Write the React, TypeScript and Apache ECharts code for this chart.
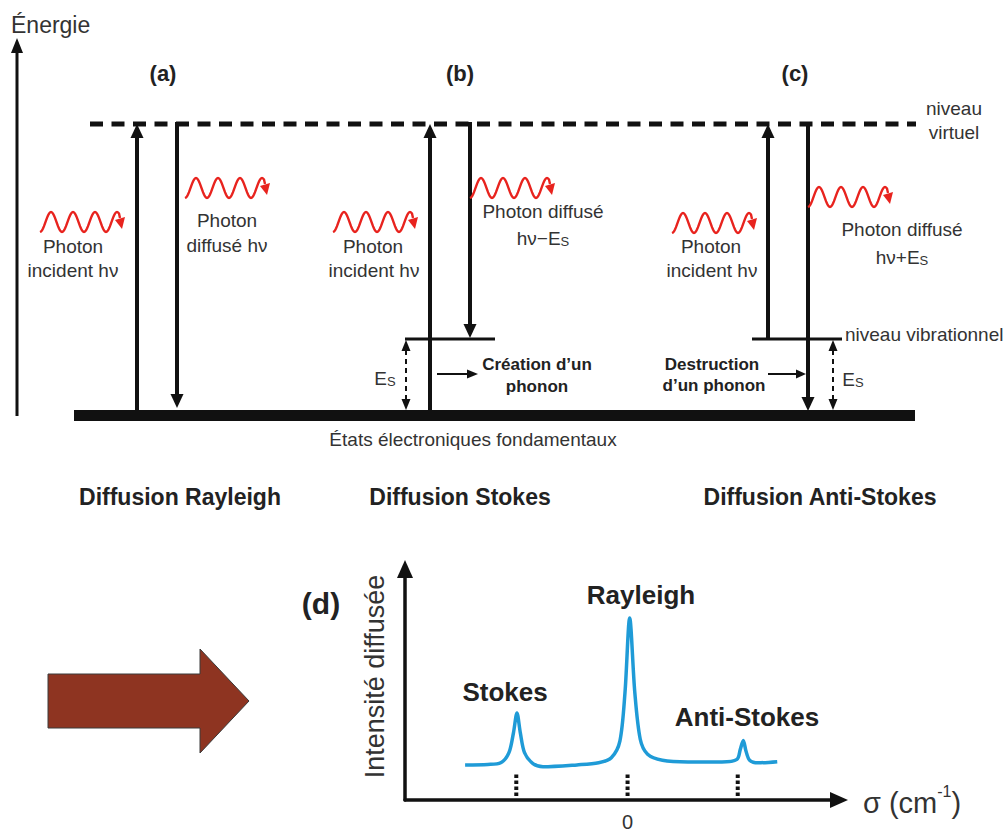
import { useEffect, useRef } from 'react';
import * as echarts from 'echarts';

// Spectrum (d): Raman shift (arbitrary cm-1 units) and scattered intensity (arbitrary units)
const sigma = [-146, -125.5, -114, -106.6, -102.5, -99.4, -96.4, -92.6, -85.3, -76, -45.5, -26, -14.6, -6.9, -2.3, 1.9, 6.5, 11.4, 18, 31.3, 54.3, 84.8, 98.3, 101.3, 104, 106.4, 109.7, 117.2, 134.5];
const intensity = [15.2, 15.4, 16.1, 20.5, 29.2, 37.7, 29.2, 20.5, 15.9, 14.4, 15.2, 16.1, 18.3, 25.5, 46.6, 78.8, 46.6, 26.3, 19.8, 17.2, 16.5, 16.5, 17.6, 21.9, 25.8, 21.2, 17.2, 16.1, 16.6];
const peakSigma = [-100, 0, 99];
const peakNames = ['Stokes', 'Rayleigh', 'Anti-Stokes'];
const tickRange = [1.7, 11.8];
const xRange = [-200, 190];
const yRange = [0, 100];

const FF = '"Liberation Sans", Arial, Helvetica, sans-serif';
const INK = '#111';
const TXT = '#333';
const RED = '#e8231e';
const BLUE = '#1f9bd7';

function buildGraphic() {
  const g: any[] = [];
  const ln = (x1: number, y1: number, x2: number, y2: number, w: number, dash?: number[]) =>
    g.push({ type: 'line', silent: true, shape: { x1, y1, x2, y2 }, style: { stroke: INK, lineWidth: w, lineDash: dash || null } });
  const tri = (pts: number[][], fill = INK) =>
    g.push({ type: 'polygon', silent: true, shape: { points: pts }, style: { fill } });
  const txt = (x: number, y: number, text: string, size = 19, bold = false, align = 'center', rich?: any) =>
    g.push({
      type: 'text', silent: true, x, y,
      style: {
        text, fill: bold ? '#222' : TXT, fontSize: size, fontWeight: bold ? 'bold' : 'normal', fontFamily: FF,
        align, verticalAlign: 'middle', textAlign: align, textVerticalAlign: 'middle', rich,
      },
    });
  const sub = (x: number, y: number, main: string) =>
    txt(x, y, `{n|${main}}{s|S}`, 19, false, 'center', {
      n: { fontSize: 19, fontFamily: FF, fill: TXT, color: TXT, verticalAlign: 'bottom', lineHeight: 22 },
      s: { fontSize: 13, fontFamily: FF, fill: TXT, color: TXT, verticalAlign: 'bottom', lineHeight: 18 },
    });
  const upArrow = (x: number, yFrom: number, yTip: number, w = 4, hl = 14, hw = 13) => {
    ln(x, yFrom, x, yTip + hl - 1, w);
    tri([[x, yTip], [x - hw / 2, yTip + hl], [x + hw / 2, yTip + hl]]);
  };
  const downArrow = (x: number, yFrom: number, yTip: number, w = 4, hl = 14, hw = 13) => {
    ln(x, yFrom, x, yTip - hl + 1, w);
    tri([[x, yTip], [x - hw / 2, yTip - hl], [x + hw / 2, yTip - hl]]);
  };
  const esArrow = (x: number) => {
    ln(x, 350, x, 400, 2, [5, 4]);
    tri([[x, 340], [x - 4.5, 351], [x + 4.5, 351]]);
    tri([[x, 410], [x - 4.5, 399], [x + 4.5, 399]]);
  };
  const wave = (x0: number, yc: number) => {
    const pts: number[][] = [];
    for (let i = 0; i <= 79; i++) pts.push([x0 + i, yc + 10 * Math.cos((2 * Math.PI * i) / 22)]);
    pts.push([x0 + 80, yc - 4]);
    g.push({ type: 'polyline', silent: true, shape: { points: pts }, style: { stroke: RED, lineWidth: 2.4, fill: null } });
    tri([[x0 + 82, yc + 7], [x0 + 75, yc - 2], [x0 + 85, yc - 5]], RED);
  };

  // energy axis
  ln(17, 416, 17, 50, 3);
  tri([[17, 38], [11, 53], [23, 53]]);
  txt(11, 25, 'Énergie', 23, false, 'left');

  // levels
  ln(90, 124, 916, 124, 5, [13, 8.5]);
  g.push({ type: 'rect', silent: true, shape: { x: 74, y: 410, width: 841, height: 11 }, style: { fill: INK } });
  ln(405, 339, 495, 339, 3);
  ln(752, 339, 842, 339, 3);

  // transitions
  upArrow(137, 416, 124);
  downArrow(177, 122, 408);
  upArrow(430, 416, 124);
  downArrow(470, 122, 338);
  upArrow(768, 340, 124);
  downArrow(808, 122, 411);
  esArrow(406);
  esArrow(833);
  ln(437, 374, 468, 374, 2);
  tri([[478, 374], [467, 369.5], [467, 378.5]]);
  ln(768, 374, 797, 374, 2);
  tri([[806, 374], [796, 369.5], [796, 378.5]]);

  // photons
  wave(40, 222);
  wave(185, 188);
  wave(333, 222);
  wave(470, 188);
  wave(672, 223);
  wave(808, 197);

  // labels
  txt(163, 73, '(a)', 22, true);
  txt(460, 73, '(b)', 22, true);
  txt(795, 73, '(c)', 22, true);
  txt(954, 108, 'niveau');
  txt(954, 132, 'virtuel');
  txt(73, 246, 'Photon');
  txt(73, 270, 'incident hν');
  txt(227, 220, 'Photon');
  txt(227, 245, 'diffusé hν');
  txt(373, 246, 'Photon');
  txt(374, 270, 'incident hν');
  txt(543, 211, 'Photon diffusé');
  sub(543, 237, 'hν−E');
  sub(385, 377, 'E');
  txt(537, 364, 'Création d’un', 17, true);
  txt(537, 386, 'phonon', 17, true);
  txt(711, 246, 'Photon');
  txt(712, 270, 'incident hν');
  txt(902, 229, 'Photon diffusé');
  sub(902, 256, 'hν+E');
  txt(845, 334, 'niveau vibrationnel', 19, false, 'left');
  txt(712, 364, 'Destruction', 17, true);
  txt(714, 385, 'd’un phonon', 17, true);
  sub(853, 378, 'E');
  txt(473, 439, 'États électroniques fondamentaux');
  txt(180, 497, 'Diffusion Rayleigh', 23, true);
  txt(460, 497, 'Diffusion Stokes', 23, true);
  txt(820, 497, 'Diffusion Anti-Stokes', 23, true);

  // (d)
  txt(321, 603, '(d)', 30, true);
  const peakPos = [[505, 692], [641, 595], [747, 717]];
  peakNames.forEach((n, i) => txt(peakPos[i][0], peakPos[i][1], n, 26, true));

  // big arrow
  g.push({
    type: 'polygon', silent: true,
    shape: { points: [[48, 674], [200, 674], [200, 649], [249, 701], [200, 753], [200, 728], [48, 728]] },
    style: { fill: '#8e3421', stroke: '#3a3a3a', lineWidth: 1 },
  });
  return g;
}

export default function App() {
  const ref = useRef<HTMLDivElement>(null);
  useEffect(() => {
    if (!ref.current) return;
    const chart = echarts.init(ref.current, undefined, { renderer: 'svg' });
    const axisLine = { show: true, onZero: false, symbol: ['none', 'triangle'], symbolSize: [16, 18], lineStyle: { color: INK, width: 3.5 } };
    chart.setOption({
      animation: false,
      backgroundColor: '#fff',
      grid: { left: 405, top: 569, width: 434, height: 231 },
      xAxis: {
        type: 'value', min: xRange[0], max: xRange[1], interval: 100,
        axisLine, axisTick: { show: false }, splitLine: { show: false },
        axisLabel: { formatter: (v: number) => (v === 0 ? '0' : ''), fontSize: 20, color: TXT, margin: 12, fontFamily: FF },
        name: '{a|σ (cm}{b|-1}{a|)}', nameLocation: 'end', nameGap: 24,
        nameTextStyle: {
          rich: {
            a: { fontSize: 29, color: TXT, fontFamily: FF, verticalAlign: 'bottom', lineHeight: 34 },
            b: { fontSize: 16, color: TXT, fontFamily: FF, verticalAlign: 'top', lineHeight: 34 },
          },
        },
      },
      yAxis: {
        type: 'value', min: yRange[0], max: yRange[1],
        axisLine, axisTick: { show: false }, splitLine: { show: false }, axisLabel: { show: false },
        name: 'Intensité diffusée', nameLocation: 'middle', nameRotate: 90, nameGap: 17,
        nameTextStyle: { fontSize: 27, color: TXT, fontFamily: FF, padding: [0, 0, 0, 16] },
      },
      series: [
        {
          type: 'line', data: sigma.map((s, i) => [s, intensity[i]]), showSymbol: false, symbol: 'none',
          smooth: 0.3, lineStyle: { color: BLUE, width: 3.5 }, silent: true,
        },
        ...peakSigma.map((s) => ({
          type: 'line', data: [[s, tickRange[0]], [s, tickRange[1]]], symbol: 'none', silent: true,
          lineStyle: { color: INK, width: 4, type: [3.5, 2.5] },
        })),
      ],
      graphic: { elements: buildGraphic() },
    });
    return () => chart.dispose();
  }, []);
  return <div ref={ref} style={{ position: 'fixed', left: 0, top: 0, width: 1007, height: 834 }} />;
}
